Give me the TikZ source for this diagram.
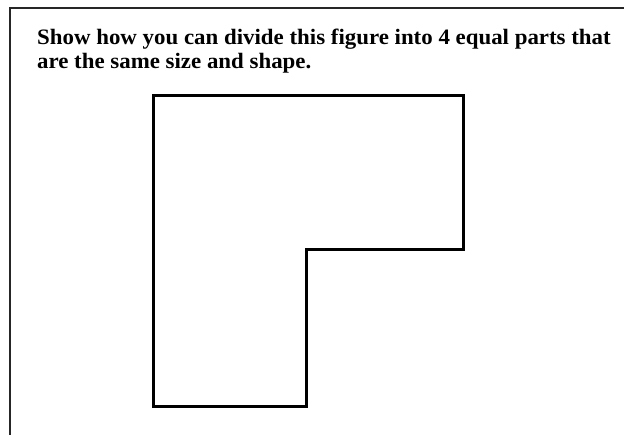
\documentclass[tikz,border=0pt]{standalone}
\usepackage{fontspec}
\setmainfont{Liberation Serif}[FakeStretch=1.04]
\begin{document}
\begin{tikzpicture}[x=1pt,y=1pt,
  frame/.style={line width=2.2pt,draw=black!85},
  figline/.style={line width=3pt,line join=miter},
  prompt/.style={anchor=base west,inner sep=0pt,font=\fontsize{22}{26}\selectfont\bfseries}]
\useasboundingbox (0,0) rectangle (624,435);
\draw[frame] (10,0) -- (10,427) -- (624,427);
\node[prompt] (l1) at (37,390) {Show how you can divide this figure into 4 equal parts that};
\node[prompt] (l2) at (37,366) {are the same size and shape.};
\draw[figline] (153,339) -- (463,339) -- (463,185) -- (306,185) -- (306,28) -- (153,28) -- cycle;
\end{tikzpicture}
\end{document}
